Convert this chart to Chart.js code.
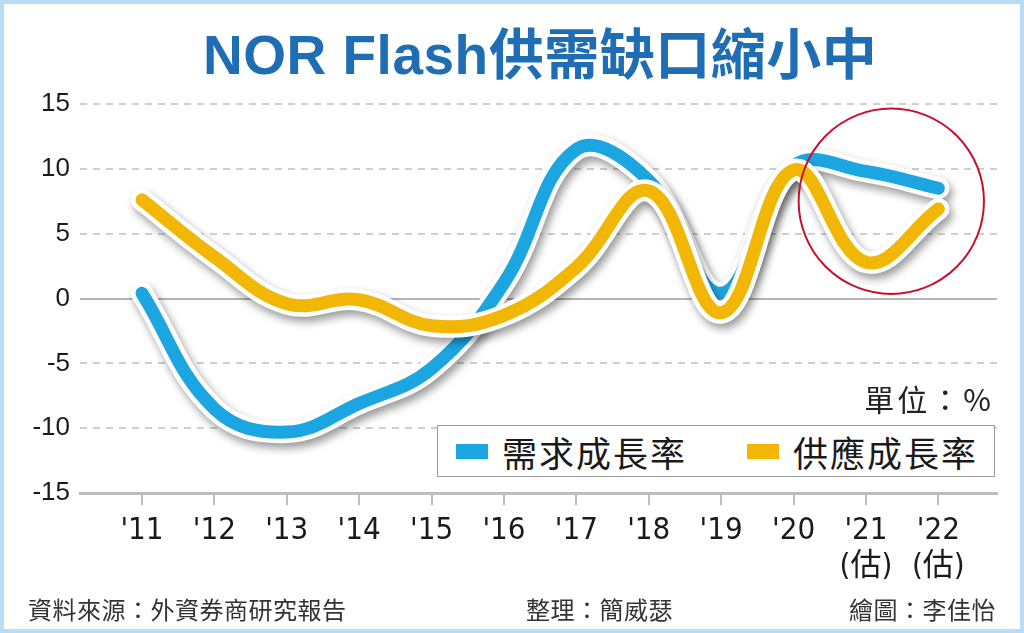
<!DOCTYPE html>
<html>
<head>
<meta charset="utf-8">
<script src="https://cdn.jsdelivr.net/npm/chart.js@4.4.1/dist/chart.umd.min.js"></script>
<style>
  html, body { margin: 0; padding: 0; background: #fff; }
  #frame { position: relative; width: 1024px; height: 633px; overflow: hidden; background: #fff; }
  #frame canvas { position: absolute; left: 0; top: 0; }
  .edge { position: absolute; inset: 0; border: 4px solid #b9ddf5; pointer-events: none; }
  .title { position: absolute; left: 203px; top: 10px; font: bold 55px "Liberation Sans", "Noto Sans CJK TC", sans-serif; color: #1f6db4; white-space: nowrap; letter-spacing: 0.5px; }
  .unit { position: absolute; right: 30px; top: 376px; font: 30px "Noto Sans CJK TC", sans-serif; color: #222; letter-spacing: 3px; }
  .legend { position: absolute; left: 437px; top: 425px; width: 558px; height: 52px; border: 1.5px solid #9a9a9a; box-sizing: border-box; background: #fff; }
  .legend .item { position: absolute; top: 0; height: 100%; display: flex; align-items: center; font: 35px "Noto Sans CJK TC", sans-serif; color: #1a1a1a; letter-spacing: 2px; }
  .legend .sw { width: 32px; height: 15px; margin-right: 14px; }
  .foot { position: absolute; top: 591px; font: 24px "Noto Sans CJK TC", sans-serif; color: #333; letter-spacing: 0.5px; white-space: nowrap; }
</style>
</head>
<body>
<div id="frame">
  <canvas id="myChart" width="1024" height="633"></canvas>
  <div class="title">NOR Flash供需缺口縮小中</div>
  <div class="unit">單位：%</div>
  <div class="legend" id="legend"></div>
  <div class="foot" style="left:28px">資料來源：外資券商研究報告</div>
  <div class="foot" style="left:526px">整理：簡威瑟</div>
  <div class="foot" style="right:28px">繪圖：李佳怡</div>
  <div class="edge"></div>
</div>
<script>
// 年度與註記
const years = ["'11", "'12", "'13", "'14", "'15", "'16", "'17", "'18", "'19", "'20", "'21", "'22"];
const yearNotes = ['', '', '', '', '', '', '', '', '', '', '(估)', '(估)'];

// 成長率 (%)
const demandGrowth = [0.4, -8.5, -10.3, -8.1, -5.4, 1.2, 11.5, 9.1, 0.4, 10.2, 9.8, 8.5];
const supplyGrowth = [7.6, 3.2, -0.4, -0.1, -2.1, -1.3, 2.4, 8.3, -1.1, 9.9, 2.8, 6.9];

const seriesNames = ['需求成長率', '供應成長率'];
const seriesColors = ['#1ba6e2', '#f2b705'];

// 紅圈標示 '21~'22 區間
const circleAt = { x: 10.35, y: 7.5, r: 1.28 };

function toPoints(values) {
    return values.map((v, i) => ({ x: i, y: v }));
}

// 白色外框 + 陰影
const outlinePlugin = {
    id: 'outline',
    beforeDatasetDraw(chart, args) {
        const line = args.meta.dataset;
        const ctx = chart.ctx;
        ctx.save();
        ctx.shadowColor = 'rgba(0,0,0,0.4)';
        ctx.shadowBlur = 9;
        ctx.shadowOffsetX = 3;
        ctx.shadowOffsetY = 5;
        ctx.strokeStyle = '#fff';
        ctx.lineWidth = 22;
        ctx.lineCap = 'round';
        ctx.lineJoin = 'round';
        ctx.beginPath();
        line.path(ctx);
        ctx.stroke();
        ctx.restore();
    }
};

const circlePlugin = {
    id: 'redCircle',
    afterDatasetsDraw(chart) {
        const { ctx, scales } = chart;
        const cx = scales.x.getPixelForValue(circleAt.x);
        const cy = scales.y.getPixelForValue(circleAt.y);
        const r = scales.x.getPixelForValue(circleAt.x + circleAt.r) - cx;
        ctx.save();
        ctx.strokeStyle = '#c8102e';
        ctx.lineWidth = 2;
        ctx.beginPath();
        ctx.arc(cx, cy, r, 0, Math.PI * 2);
        ctx.stroke();
        ctx.restore();
    }
};

// 圖例
const legendEl = document.getElementById('legend');
const legendLeft = [18, 309];
seriesNames.forEach((name, i) => {
    const item = document.createElement('div');
    item.className = 'item';
    item.style.left = legendLeft[i] + 'px';
    item.innerHTML = '<span class="sw" style="background:' + seriesColors[i] + '"></span>' + name;
    legendEl.appendChild(item);
});

const ctx = document.getElementById('myChart').getContext('2d');
new Chart(ctx, {
    type: 'line',
    data: {
        datasets: [
            {
                label: seriesNames[0],
                data: toPoints(demandGrowth),
                borderColor: seriesColors[0],
                order: 2
            },
            {
                label: seriesNames[1],
                data: toPoints(supplyGrowth),
                borderColor: seriesColors[1],
                order: 1
            }
        ]
    },
    options: {
        responsive: false,
        animation: false,
        devicePixelRatio: 1,
        layout: { padding: { top: 104, right: 27, left: 0, bottom: 0 } },
        elements: {
            line: { borderWidth: 13, tension: 0.4, borderCapStyle: 'round', borderJoinStyle: 'round', fill: false },
            point: { radius: 0, hoverRadius: 0 }
        },
        plugins: {
            legend: { display: false },
            tooltip: { enabled: false }
        },
        scales: {
            x: {
                type: 'linear',
                min: -0.856,
                max: 11.81,
                afterFit: s => { s.height = 140; },
                afterBuildTicks: s => { s.ticks = years.map((_, i) => ({ value: i })); },
                ticks: {
                    padding: 8,
                    color: '#1a1a1a',
                    font: { family: "'DejaVu Sans Condensed', 'Noto Sans CJK TC', sans-serif", size: 31, lineHeight: 1.15 },
                    callback: v => yearNotes[v] ? [years[v], yearNotes[v]] : years[v]
                },
                grid: { drawOnChartArea: false, drawTicks: true, tickLength: 12, color: '#bdbdbd', lineWidth: 2 },
                border: { display: true, color: '#bdbdbd', width: 3 }
            },
            y: {
                min: -15,
                max: 15,
                afterFit: s => { s.width = 80; },
                ticks: {
                    stepSize: 5,
                    padding: 10,
                    color: '#1a1a1a',
                    font: { family: "'Liberation Sans', sans-serif", size: 26 }
                },
                grid: {
                    drawTicks: false,
                    lineWidth: 2,
                    color: c => (c.tick && (c.tick.value === 0 || c.tick.value === -15)) ? '#b5b5b5' : '#cfcfcf'
                },
                border: {
                    display: false,
                    dash: c => (c.tick && (c.tick.value === 0 || c.tick.value === -15)) ? [] : [7, 6]
                }
            }
        }
    },
    plugins: [outlinePlugin, circlePlugin]
});
</script>
</body>
</html>
